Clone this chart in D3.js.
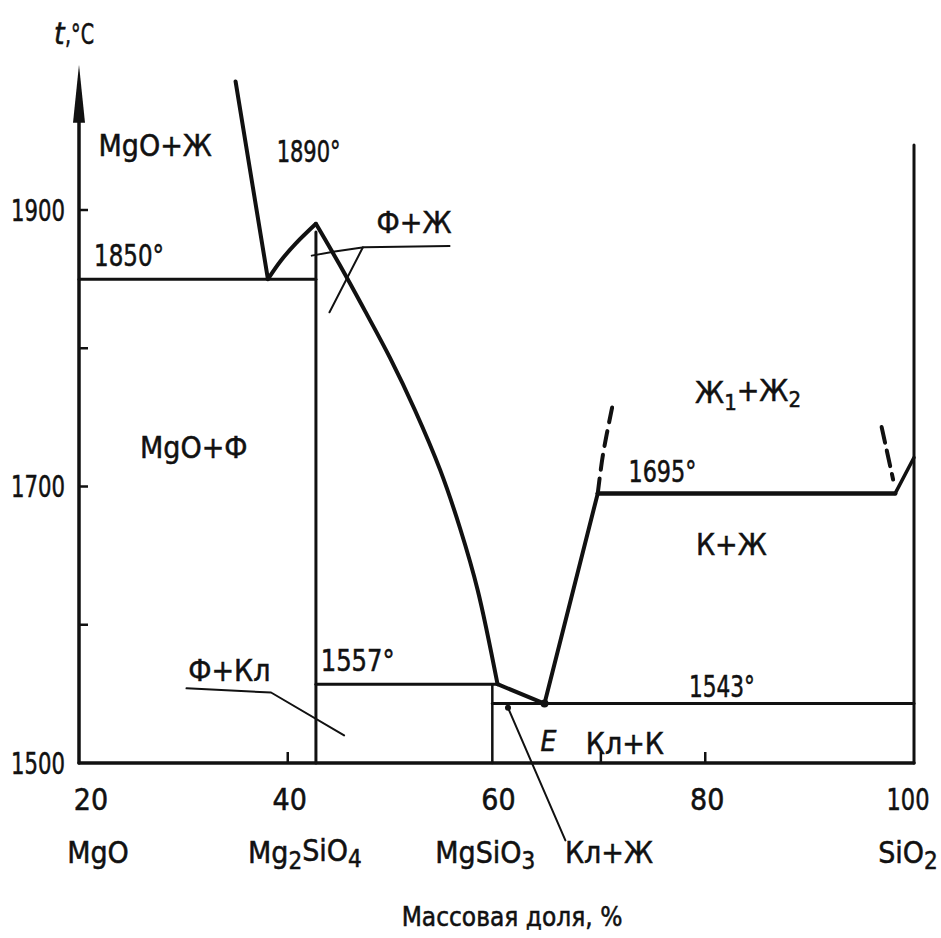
<!DOCTYPE html>
<html>
<head>
<meta charset="utf-8">
<script src="https://cdn.jsdelivr.net/npm/d3@7"></script>
<style>
  body { margin: 0; background: #fff; }
  text { font-family: "Liberation Sans Narrow", "DejaVu Sans Condensed", "Liberation Sans", sans-serif; fill: #111; stroke: #111; stroke-width: 0.5px; }
</style>
</head>
<body>
<svg id="chart" width="941" height="938"></svg>
<script>
// MgO–SiO2 phase diagram: composition in mass % SiO2, temperature in °C

// axes
const xTickValues = [20, 40, 60, 80, 100];
const xTickMarks = [40, 70, 80];
const yTickLabels = [1500, 1700, 1900];
const yTickMarks = [1600, 1700, 1800, 1900];
const yAxisTop = 2005;
const silicaLineTop = 1947;

// compounds along the composition axis
const compoundNames = ["MgO", "Mg₂SiO₄", "MgSiO₃", "SiO₂"];
const compoundX = [20, 42.7, 59.6, 100];

// liquidus curves [mass % SiO2, °C]
const mgoLiquidus = [[35.0, 1993], [38.1, 1850]];
const forsteriteLiquidusLow = [[38.1, 1850], [39.3, 1863], [40.8, 1876], [42.7, 1890]];
const forsteriteLiquidusHigh = [[42.7, 1890], [45.0, 1860], [47.4, 1827], [49.8, 1793], [52.2, 1755],
                                [54.6, 1712], [56.5, 1670], [58.2, 1625], [60.1, 1557]];
const enstatiteLiquidus = [[60.1, 1557], [64.6, 1543]];
const cristobaliteLiquidus = [[64.6, 1543], [69.7, 1695]];
const silicaLiquidus = [[98.2, 1695], [100, 1721]];
// boundaries of the two-liquid field (dashed)
const miscibilityLeft = [[69.7, 1695], [70.2, 1723], [71.1, 1758]];
const miscibilityRight = [[96.9, 1743], [98.0, 1705]];

// invariant isotherms
const isothermT = [1850, 1557, 1543, 1695];
const isothermFrom = [20, 42.7, 59.6, 69.7];
const isothermTo = [42.7, 60.1, 100, 98.2];
const isothermWidth = [3, 3, 3, 4.5];

// congruent compounds drawn as verticals: Mg2SiO4 and MgSiO3
const verticalX = [42.7, 59.6];
const verticalTop = [1884, 1557];

// field labels [text, % SiO2, °C]
const fieldLabels = [
  ["MgO+Ж", 27.3, 1947],
  ["Ф+Ж", 52.1, 1891],
  ["MgO+Ф", 31.0, 1728],
  ["К+Ж", 82.5, 1658],
  ["Ф+Кл", 34.4, 1567],
  ["Кл+К", 72.3, 1514]
];
// temperature labels of invariant points
const pointTemps = [1890, 1850, 1695, 1557, 1543];
const pointLabelX = [42.0, 24.8, 75.9, 46.7, 81.6];
const pointLabelT = [1942, 1867, 1711, 1574, 1555];
const pointLabelWidth = [64, 70, 68, 74, 66];

// leader lines pointing into narrow fields
const leaderFZh1 = [[55.5, 1874], [47.3, 1873], [44.5, 1870], [42.3, 1867]];
const leaderFZh2 = [[47.2, 1873], [44.0, 1826]];
const leaderFKl = [[30.3, 1554], [38.4, 1551], [45.4, 1520]];
const leaderKlZh = [[61.1, 1540], [66.6, 1444]];

const eutecticE = [64.6, 1543];

const svg = d3.select("#chart");
svg.append("rect").attr("width", 941).attr("height", 938).attr("fill", "#fff");

const x = d3.scaleLinear().domain([20, 100]).range([79, 914]);
const y = d3.scaleLinear().domain([1500, 1900]).range([763, 210]);

const line = d3.line().x(d => x(d[0])).y(d => y(d[1]));
const curve = d3.line().x(d => x(d[0])).y(d => y(d[1])).curve(d3.curveCatmullRom.alpha(0.5));

const ink = "#111";
function path(data, w, gen, dash) {
  const p = svg.append("path").attr("d", (gen || line)(data))
    .attr("fill", "none").attr("stroke", ink).attr("stroke-width", w)
    .attr("stroke-linejoin", "round").attr("stroke-linecap", "round");
  if (dash) p.attr("stroke-dasharray", dash);
  return p;
}
// narrow numerals: squeeze a label to a given width
function fit(sel, w) {
  return sel.attr("textLength", w).attr("lengthAdjust", "spacingAndGlyphs");
}

// y axis with arrow
path([[20, 1500], [20, yAxisTop - 30]], 3.5);
const tipY = y(yAxisTop), x0 = x(20);
svg.append("path")
  .attr("d", `M${x0},${tipY} L${x0 - 6},${tipY + 58} L${x0 + 6},${tipY + 58} Z`)
  .attr("fill", ink);
yTickMarks.forEach(t => svg.append("path").attr("d", `M${x0},${y(t)} h9`)
  .attr("stroke", ink).attr("stroke-width", 2.5));
yTickLabels.forEach(t => fit(svg.append("text").attr("x", 65).attr("y", y(t)).attr("dy", "0.35em")
  .attr("text-anchor", "end").attr("font-size", 30).text(t), 54));
// axis title: italic t followed by the unit
svg.append("text").attr("x", 54).attr("y", 44).attr("font-size", 30).attr("font-style", "italic")
  .attr("font-family", "Liberation Serif, serif").text("t");
fit(svg.append("text").attr("x", 65).attr("y", 44).attr("font-size", 28).text(",°C"), 29);

// x axis (box bottom) and SiO2 edge
path([[20, 1500], [100, 1500]], 3.5);
path([[100, 1500], [100, silicaLineTop]], 3);
xTickMarks.forEach(v => svg.append("path").attr("d", `M${x(v)},${y(1500)} v-11`)
  .attr("stroke", ink).attr("stroke-width", 2.5));
xTickValues.forEach(v => {
  const t = svg.append("text").attr("x", x(v) + (v === 20 ? 12 : v === 100 ? -6 : 2))
    .attr("y", 799).attr("dy", "0.35em").attr("text-anchor", "middle").attr("font-size", 30).text(v);
  if (v === 100) fit(t, 43);
});

// compound names under the axis
const compoundDx = [19, -11, -7, -6];
compoundNames.forEach((name, i) => {
  const t = svg.append("text").attr("x", x(compoundX[i]) + compoundDx[i]).attr("y", 852)
    .attr("dy", "0.35em").attr("text-anchor", "middle").attr("font-size", 30);
  let lowered = false;
  name.split(/([₂₃₄])/).filter(s => s.length).forEach(s => {
    const sub = { "₂": "2", "₃": "3", "₄": "4" }[s];
    if (sub) {
      t.append("tspan").attr("font-size", 24).attr("dy", lowered ? null : "0.25em").text(sub);
      lowered = true;
    } else {
      t.append("tspan").attr("dy", lowered ? "-0.25em" : null).text(s);
      lowered = false;
    }
  });
});
svg.append("text").attr("x", 609).attr("y", 852).attr("dy", "0.35em").attr("text-anchor", "middle")
  .attr("font-size", 30).text("Кл+Ж");
svg.append("text").attr("x", 512).attr("y", 917).attr("dy", "0.35em").attr("text-anchor", "middle")
  .attr("font-size", 26).text("Массовая доля, %");

// isotherms and compound verticals
isothermT.forEach((t, i) => path([[isothermFrom[i], t], [isothermTo[i], t]], isothermWidth[i]));
path([[verticalX[0], 1500], [verticalX[0], verticalTop[0]]], 3);
path([[verticalX[1], 1500], [verticalX[1], verticalTop[1]]], 2.5);

// liquidus
path(mgoLiquidus, 4);
path(forsteriteLiquidusLow, 4, curve);
path(forsteriteLiquidusHigh, 4, curve);
path(enstatiteLiquidus, 4);
path(cristobaliteLiquidus, 4);
path(silicaLiquidus, 3.5);
path(miscibilityLeft, 4, curve, "15,9");
path(miscibilityRight, 4, line, "16,8");
svg.append("circle").attr("cx", x(eutecticE[0])).attr("cy", y(eutecticE[1])).attr("r", 4).attr("fill", ink);

// leaders
path(leaderFZh1, 2);
path(leaderFZh2, 2);
path(leaderFKl, 2);
path(leaderKlZh, 2);
svg.append("circle").attr("cx", x(leaderKlZh[0][0])).attr("cy", y(leaderKlZh[0][1])).attr("r", 3).attr("fill", ink);

// labels
fieldLabels.forEach(([txt, cx, ct]) => svg.append("text").attr("x", x(cx)).attr("y", y(ct))
  .attr("dy", "0.35em").attr("text-anchor", "middle").attr("font-size", 30).text(txt));
pointTemps.forEach((t, i) => fit(svg.append("text").attr("x", x(pointLabelX[i])).attr("y", y(pointLabelT[i]))
  .attr("dy", "0.35em").attr("text-anchor", "middle").attr("font-size", 30).text(t + "°"), pointLabelWidth[i]));

// two-liquid field label with subscripts
const zz = svg.append("text").attr("x", x(84.1)).attr("y", y(1768)).attr("dy", "0.35em")
  .attr("text-anchor", "middle").attr("font-size", 30);
zz.append("tspan").text("Ж");
zz.append("tspan").attr("font-size", 22).attr("dy", "0.3em").text("1");
zz.append("tspan").attr("dy", "-0.3em").text("+Ж");
zz.append("tspan").attr("font-size", 22).attr("dy", "0.3em").text("2");

svg.append("text").attr("x", x(eutecticE[0]) + 4).attr("y", y(1516)).attr("dy", "0.35em")
  .attr("text-anchor", "middle").attr("font-size", 28).attr("font-style", "italic")
  .attr("font-family", "Liberation Serif, serif").text("E");
</script>
</body>
</html>
